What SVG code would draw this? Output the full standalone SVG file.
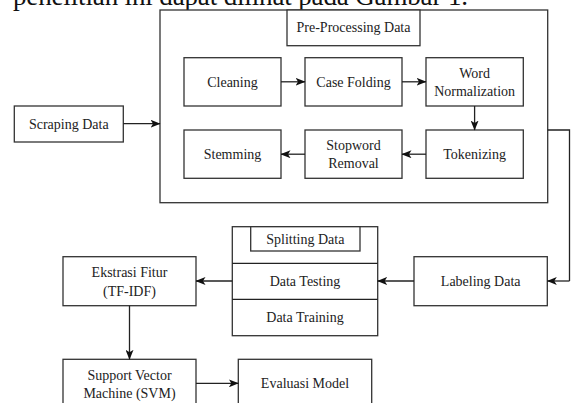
<svg xmlns="http://www.w3.org/2000/svg" width="571" height="403" viewBox="0 0 571 403">
<style>
.b{fill:#fff;stroke:#333;stroke-width:1.3}
.c{fill:none;stroke:#222;stroke-width:1.3}
</style>
<defs>
<marker id="a" viewBox="0 0 10 8" refX="9.5" refY="4" markerWidth="10" markerHeight="8" markerUnits="userSpaceOnUse" orient="auto">
<path d="M0,0 L10,4 L0,8 L2.5,4 z" fill="#111"/>
</marker>
</defs>
<rect width="571" height="403" fill="#fff"/>
<text x="13" y="4.5" font-family="Liberation Serif, serif" font-size="27" fill="#111" textLength="455" lengthAdjust="spacing">penelitian ini dapat dilihat pada Gambar 1.</text>

<g font-family="Liberation Serif, serif" font-size="14" fill="#222" text-anchor="middle">
<g id="preprocessing">
<rect class="b" x="160" y="10" width="387.7" height="192.7"/>
<rect class="b" x="287" y="10" width="133" height="35.7"/>
<text x="353.5" y="32">Pre-Processing Data</text>
</g>
<g id="cleaning"><rect class="b" x="184" y="57.7" width="97" height="48.3"/><text x="232.5" y="86.5">Cleaning</text></g>
<g id="casefolding"><rect class="b" x="305" y="57.7" width="97" height="48.3"/><text x="353.5" y="86.5">Case Folding</text></g>
<g id="wordnorm"><rect class="b" x="426" y="57.7" width="97.3" height="48.3"/><text x="474.6" y="77.5">Word</text><text x="474.6" y="95.5">Normalization</text></g>
<g id="tokenizing"><rect class="b" x="426" y="130" width="97.3" height="48.3"/><text x="474.6" y="159">Tokenizing</text></g>
<g id="stopword"><rect class="b" x="305" y="130" width="97" height="48.3"/><text x="353.5" y="150">Stopword</text><text x="353.5" y="168">Removal</text></g>
<g id="stemming"><rect class="b" x="184" y="130" width="97" height="48.3"/><text x="232.5" y="159">Stemming</text></g>
<g id="scraping"><rect class="b" x="14.3" y="106" width="109" height="36"/><text x="68.8" y="128.7">Scraping Data</text></g>
<g id="labeling"><rect class="b" x="414" y="256.7" width="133.3" height="49"/><text x="480.7" y="285.7">Labeling Data</text></g>
<g id="splitting">
<rect class="b" x="232.3" y="226.7" width="145.4" height="109"/>
<line class="c" x1="232.3" y1="263.3" x2="377.7" y2="263.3" stroke="#333"/>
<line class="c" x1="232.3" y1="299.3" x2="377.7" y2="299.3" stroke="#333"/>
<rect class="b" x="250.7" y="226.7" width="109.3" height="24.3"/>
<text x="305.3" y="243.7">Splitting Data</text>
<text x="305" y="285.7">Data Testing</text>
<text x="305" y="321.7">Data Training</text>
</g>
<g id="ekstrasi"><rect class="b" x="63" y="256.7" width="133" height="49"/><text x="129.5" y="277.4">Ekstrasi Fitur</text><text x="129.5" y="296.4">(TF-IDF)</text></g>
<g id="svm"><rect class="b" x="63" y="359.3" width="133" height="50"/><text x="129.5" y="379.7">Support Vector</text><text x="129.5" y="398">Machine (SVM)</text></g>
<g id="evaluasi"><rect class="b" x="238.3" y="359.3" width="133.4" height="50"/><text x="305" y="388">Evaluasi Model</text></g>
</g>

<g id="connectors">
<line class="c" x1="123.3" y1="123.7" x2="160" y2="123.7" marker-end="url(#a)"/>
<line class="c" x1="281" y1="81.8" x2="305" y2="81.8" marker-end="url(#a)"/>
<line class="c" x1="402" y1="81.8" x2="426" y2="81.8" marker-end="url(#a)"/>
<line class="c" x1="474.6" y1="106" x2="474.6" y2="130" marker-end="url(#a)"/>
<line class="c" x1="426" y1="154.2" x2="402" y2="154.2" marker-end="url(#a)"/>
<line class="c" x1="305" y1="154.2" x2="281" y2="154.2" marker-end="url(#a)"/>
<polyline class="c" points="547.7,130 569.5,130 569.5,281"/>
<line class="c" x1="569.5" y1="281" x2="547.3" y2="281" marker-end="url(#a)"/>
<line class="c" x1="414" y1="281" x2="377.7" y2="281" marker-end="url(#a)"/>
<line class="c" x1="232.3" y1="281" x2="196" y2="281" marker-end="url(#a)"/>
<line class="c" x1="129.5" y1="305.7" x2="129.5" y2="359.3" marker-end="url(#a)"/>
<line class="c" x1="196" y1="383.3" x2="238.3" y2="383.3" marker-end="url(#a)"/>
</g>
</svg>
